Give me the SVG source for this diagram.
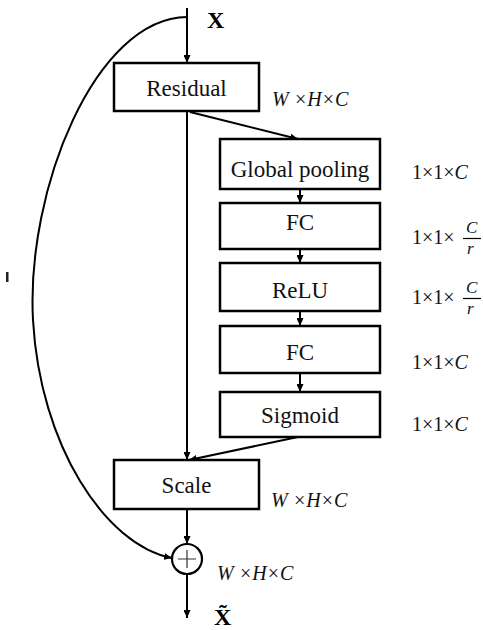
<svg xmlns="http://www.w3.org/2000/svg" width="483" height="630" viewBox="0 0 483 630">
<style>
.box{fill:#fff;stroke:#000;stroke-width:2.5}
.lbl{font-family:"Liberation Serif","Times New Roman",serif;font-size:23px;text-anchor:middle;fill:#111}
.dim{font-family:"Liberation Serif","Times New Roman",serif;font-size:20px;font-style:italic;fill:#111}
.m{font-family:"Liberation Serif","Times New Roman",serif;font-size:20px;fill:#111}
.mi{font-style:italic}
.fr{font-family:"Liberation Serif","Times New Roman",serif;font-size:17px;font-style:italic;fill:#111}
.big{font-family:"Liberation Serif","Times New Roman",serif;font-size:24px;font-weight:bold;fill:#000}
.ln{fill:none;stroke:#000;stroke-width:2}
</style>
<defs>
<marker id="ah" markerUnits="userSpaceOnUse" markerWidth="8" markerHeight="7" refX="8" refY="3.5" orient="auto">
<path d="M0,0 L8,3.5 L0,7 z" fill="#000"/>
</marker>
</defs>
<g id="connectors">
<path class="ln" d="M187,8 V63" marker-end="url(#ah)"/>
<path class="ln" d="M187,111 V460" marker-end="url(#ah)"/>
<path class="ln" d="M190,112 L298,139" marker-end="url(#ah)"/>
<path class="ln" d="M300,189 V203" marker-end="url(#ah)"/>
<path class="ln" d="M300,249 V263" marker-end="url(#ah)"/>
<path class="ln" d="M300,311 V326" marker-end="url(#ah)"/>
<path class="ln" d="M300,373 V392" marker-end="url(#ah)"/>
<path class="ln" d="M298,437 L189,460" marker-end="url(#ah)"/>
<path class="ln" d="M187,509 V544" marker-end="url(#ah)"/>
<path class="ln" d="M187,574 V618" marker-end="url(#ah)"/>
<path class="ln" d="M187,17 C95,18 26,190 33,320 C40,445 105,545 172,558" marker-end="url(#ah)"/>
</g>
<g id="input"><text class="big" x="207" y="28">X</text></g>
<g id="residual">
<rect class="box" x="114" y="63" width="145" height="48"/>
<text class="lbl" x="186.5" y="96">Residual</text>
<text class="dim" x="272" y="106">W ×H×C</text>
</g>
<g id="global-pooling">
<rect class="box" x="220" y="139" width="160" height="50"/>
<text class="lbl" x="300" y="177">Global pooling</text>
<text class="m" x="412" y="179">1×1×<tspan class="mi">C</tspan></text>
</g>
<g id="fc1">
<rect class="box" x="220" y="203" width="160" height="46"/>
<text class="lbl" x="300" y="230">FC</text>
<text class="m" x="412" y="244">1×1×</text>
<text class="fr" x="466" y="233">C</text>
<line x1="463" y1="238.5" x2="481" y2="238.5" stroke="#000" stroke-width="1.2"/>
<text class="fr" x="467" y="254">r</text>
</g>
<g id="relu">
<rect class="box" x="220" y="263" width="160" height="48"/>
<text class="lbl" x="300" y="298">ReLU</text>
<text class="m" x="412" y="304">1×1×</text>
<text class="fr" x="466" y="293">C</text>
<line x1="463" y1="298.5" x2="481" y2="298.5" stroke="#000" stroke-width="1.2"/>
<text class="fr" x="467" y="314">r</text>
</g>
<g id="fc2">
<rect class="box" x="220" y="326" width="160" height="47"/>
<text class="lbl" x="300" y="360">FC</text>
<text class="m" x="412" y="369">1×1×<tspan class="mi">C</tspan></text>
</g>
<g id="sigmoid">
<rect class="box" x="220" y="392" width="160" height="45"/>
<text class="lbl" x="300" y="423">Sigmoid</text>
<text class="m" x="412" y="431">1×1×<tspan class="mi">C</tspan></text>
</g>
<g id="scale">
<rect class="box" x="114" y="460" width="145" height="49"/>
<text class="lbl" x="186.5" y="493">Scale</text>
<text class="dim" x="271" y="507">W ×H×C</text>
</g>
<g id="add">
<circle cx="187" cy="559" r="15" fill="#fff" stroke="#000" stroke-width="2.2"/>
<path d="M178,559 H196 M187,550 V568" stroke="#333" stroke-width="1.2"/>
<text class="dim" x="217" y="580">W ×H×C</text>
</g>
<g id="output"><text class="big" x="214" y="625">X̃</text></g>
<rect x="6" y="272" width="2.5" height="10" fill="#222"/>
</svg>
